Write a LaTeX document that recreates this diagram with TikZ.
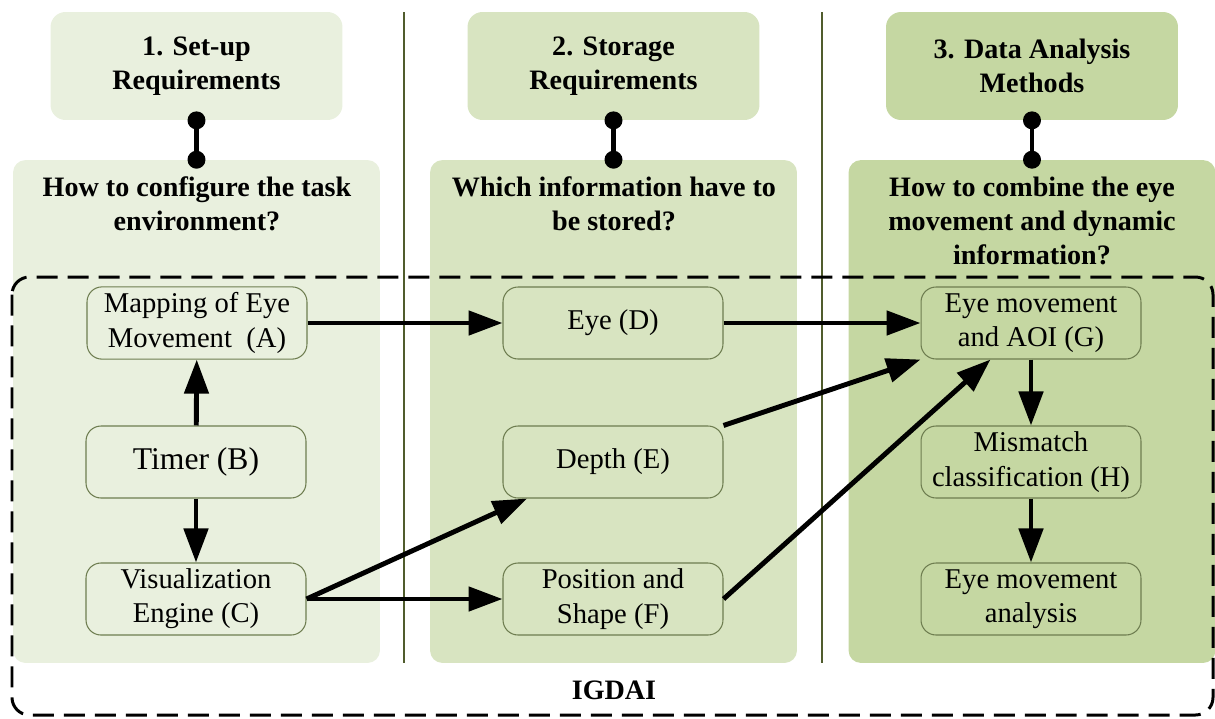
\documentclass[tikz,border=0pt]{standalone}
\usepackage{fontspec}
\setmainfont{Liberation Serif}
\usetikzlibrary{arrows.meta}
\definecolor{paleA}{RGB}{233,240,222}
\definecolor{paleB}{RGB}{216,228,193}
\definecolor{paleC}{RGB}{197,215,162}
\definecolor{rulecol}{RGB}{80,92,45}
\definecolor{edgecol}{RGB}{110,125,80}
\tikzset{
  head/.style={rounded corners=0.3cm, minimum width=5.84cm, minimum height=2.16cm, align=center, font=\fontsize{16}{19.5}\selectfont\bfseries},
  panel/.style={rounded corners=0.25cm, minimum width=7.34cm, minimum height=10.06cm},
  ask/.style={align=center, font=\fontsize{16}{19.5}\selectfont\bfseries},
  box/.style={draw=edgecol, line width=0.6pt, rounded corners=0.3cm, minimum width=4.4cm, minimum height=1.44cm, align=center, font=\fontsize{16.3}{19.5}\selectfont},
  flow/.style={line width=2.8pt, -{Triangle[length=0.68cm,width=0.48cm]}},
  bar/.style={line width=2.8pt},
  frame/.style={line width=1.7pt, dash pattern=on 0.42cm off 0.2cm, rounded corners=0.35cm},
}
\begin{document}
\begin{tikzpicture}[x=0.02cm, y=-0.02cm]
\useasboundingbox (0,0) rectangle (1215,718);
% colonne
\node[panel, fill=paleA] (p1) at (196.5,411.5) {};
\node[panel, fill=paleB] (p2) at (613.5,411.5) {};
\node[panel, fill=paleC] (p3) at (1032,411.5) {};
\draw[rulecol, line width=1.5pt] (404,12) -- (404,663);
\draw[rulecol, line width=1.5pt] (822,12) -- (822,663);
% titoli
\node[head, fill=paleA] (h1) at (196.5,66) {1. Set-up\\Requirements};
\node[head, fill=paleB] (h2) at (613.5,66) {2. Storage\\Requirements};
\node[head, fill=paleC] (h3) at (1032,66) {3. Data Analysis\\Methods};
\foreach \i in {1,2,3} {
  \draw[bar] (h\i.south) -- (p\i.north);
  \fill (h\i.south) circle (0.18cm) (p\i.north) circle (0.18cm);
}
% domande
\node[ask] (q1) at (197,204) {How to configure the task\\environment?};
\node[ask] (q2) at (614,204) {Which information have to\\be stored?};
\node[ask] (q3) at (1032,221) {How to combine the eye\\movement and dynamic\\information?};
% IGDAI
\draw[frame] (12,277) rectangle (1213,715);
\node[ask] (igdai) at (614,690) {IGDAI};
% blocchi
\node[box] (A) at (197,323) {Mapping of Eye\\Movement~ (A)};
\node[box, font=\fontsize{18}{21}\selectfont] (B) at (196,462) {Timer (B)};
\node[box] (C) at (196,599) {Visualization\\Engine (C)};
\node[box] (D) at (613,323) {Eye (D)};
\node[box] (E) at (613,462) {Depth (E)};
\node[box] (F) at (613,599) {Position and\\Shape (F)};
\node[box] (G) at (1031,323) {Eye movement\\and AOI (G)};
\node[box] (H) at (1031,462) {Mismatch\\classification (H)};
\node[box] (I) at (1031,599) {Eye movement\\analysis};
% frecce
\draw[flow] (B) -- (A);
\draw[flow] (B) -- (C);
\draw[flow] (A) -- (D);
\draw[flow] (D) -- (G);
\draw[flow] (C.east) -- (E.203);
\draw[flow] (C.east) -- (F);
\draw[flow] (E.north east) -- (G.south west);
\draw[flow] (F.east) -- (G.222);
\draw[flow] (G) -- (H);
\draw[flow] (H) -- (I);
\end{tikzpicture}
\end{document}
